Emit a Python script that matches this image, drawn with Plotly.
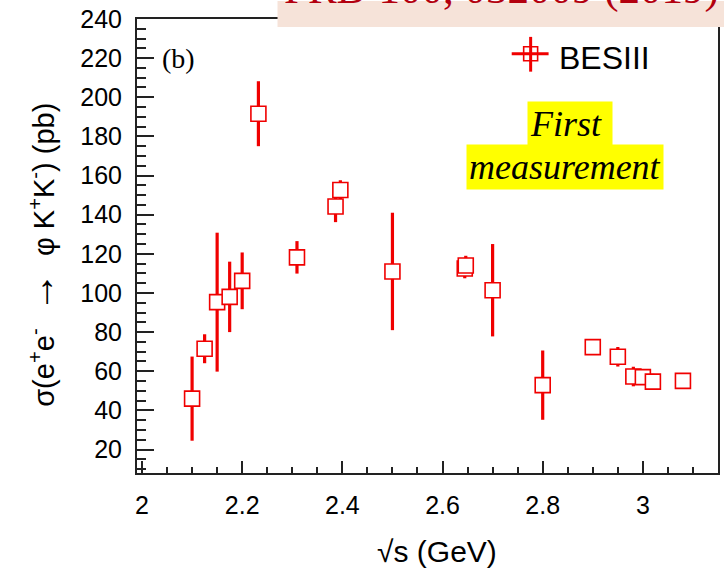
import plotly.graph_objects as go

# e+e- -> phi K+ K- cross section measured by BESIII
sqrt_s = [2.1000, 2.1250, 2.1500, 2.1750, 2.2000, 2.2324, 2.3094, 2.3864, 2.3960,
          2.5000, 2.6444, 2.6464, 2.7000, 2.8000, 2.9000, 2.9500, 2.9810, 3.0000,
          3.0200, 3.0800]
sigma_pb = [46.0, 71.5, 95.3, 98.0, 106.2, 191.6, 118.2, 144.2, 152.6,
            111.0, 112.5, 114.0, 101.4, 52.9, 72.3, 67.4, 57.3, 57.0,
            54.7, 55.1]
sigma_err = [21.5, 7.4, 35.5, 18.0, 14.5, 16.6, 8.3, 8.0, 5.0,
             30.0, 5.0, 5.0, 23.6, 17.7, 4.0, 5.0, 5.0, 4.0,
             4.0, 3.0]

x_ticks = [2.0, 2.2, 2.4, 2.6, 2.8, 3.0]
x_ticklabels = ["2", "2.2", "2.4", "2.6", "2.8", "3"]
y_ticks = [20, 40, 60, 80, 100, 120, 140, 160, 180, 200, 220, 240]

RED = "#f00000"
W, H = 725, 573
L, R, T, B = 137, 5, 16, 100
PW, PH = W - L - R, H - T - B


def px(xp):
    return (xp - L) / PW


def py(yp):
    return (H - B - yp) / PH


fig = go.Figure()
fig.add_trace(go.Scatter(
    x=sqrt_s, y=sigma_pb, mode="markers",
    error_y=dict(type="data", array=sigma_err, visible=True,
                 color=RED, thickness=3.2, width=0),
    marker=dict(symbol="square", size=15, color="white",
                line=dict(color=RED, width=1.6)),
    showlegend=False,
))

sans = "Liberation Sans, Arial, sans-serif"
serif = "Liberation Serif, Times New Roman, serif"

fig.update_layout(
    width=W, height=H,
    margin=dict(l=L, r=R, t=T, b=B),
    paper_bgcolor="white", plot_bgcolor="white",
    font=dict(family=sans, color="black"),
    xaxis=dict(
        range=[1.99, 3.15], showgrid=False, zeroline=False,
        showline=True, linecolor="#222", linewidth=2, mirror=True,
        ticks="inside", ticklen=12, tickwidth=1.5, tickcolor="#222",
        tickvals=x_ticks, ticktext=x_ticklabels,
        tickfont=dict(size=25, family=sans), ticklabelstandoff=9,
        minor=dict(ticks="inside", ticklen=6, dtick=0.05, tick0=2.0,
                   tickcolor="#222", tickwidth=1.5),
    ),
    yaxis=dict(
        range=[8, 240], showgrid=False, zeroline=False,
        showline=True, linecolor="#222", linewidth=2, mirror=True,
        ticks="inside", ticklen=17, tickwidth=1.5, tickcolor="#222",
        tickvals=y_ticks,
        tickfont=dict(size=25, family=sans), ticklabelstandoff=8,
        minor=dict(ticks="inside", ticklen=9, dtick=5, tick0=0,
                   tickcolor="#222", tickwidth=1.5),
    ),
)

shapes = []
# reference banner at the top
shapes.append(dict(type="rect", xref="paper", yref="paper", layer="above",
                   x0=px(278), x1=px(726), y0=py(24), y1=py(-2),
                   fillcolor="#f6e3d9", line=dict(width=0)))
# legend glyph: marker with error bars
shapes.append(dict(type="line", xref="paper", yref="paper", layer="above",
                   x0=px(513), x1=px(550), y0=py(51), y1=py(51),
                   line=dict(color=RED, width=3)))
shapes.append(dict(type="line", xref="paper", yref="paper", layer="above",
                   x0=px(532), x1=px(532), y0=py(34), y1=py(69),
                   line=dict(color=RED, width=3)))
shapes.append(dict(type="rect", xref="paper", yref="paper", layer="above",
                   x0=px(525), x1=px(539), y0=py(58), y1=py(44),
                   fillcolor="rgba(0,0,0,0)", line=dict(color=RED, width=1.6)))
fig.update_layout(shapes=shapes)

NB = "\u00a0"
ytitle = ("σ(e<sup>+</sup>e<sup>-</sup>" + NB + NB
          + "<span style='font-size:40px'>→</span>" + NB + NB
          + "φ" + NB + "K<sup>+</sup>K<sup>-</sup>)" + NB + "(pb)")

annotations = [
    dict(text="PRD 100, 032009 (2019)", x=px(503), y=py(12), xanchor="center",
         yanchor="bottom", font=dict(family=serif, size=43, color="#b3000f")),
    dict(text="(b)", x=px(160), y=py(56), xanchor="left", yanchor="middle",
         font=dict(family=serif, size=28, color="black")),
    dict(text="BESIII", x=px(558), y=py(55), xanchor="left", yanchor="middle",
         font=dict(family=sans, size=32, color="black")),
    dict(text="<i>First </i>", x=px(571), y=py(122), xanchor="center",
         yanchor="middle", bgcolor="yellow", borderpad=2,
         font=dict(family=serif, size=36, color="black")),
    dict(text="<i>measurement</i>", x=px(566), y=py(164.5), xanchor="center",
         yanchor="middle", bgcolor="yellow", borderpad=2,
         font=dict(family=serif, size=36, color="black")),
    dict(text=ytitle, x=px(40), y=py(253), textangle=-90, xanchor="center",
         yanchor="middle", font=dict(family=sans, size=29, color="black")),
    dict(text="√s (GeV)", x=px(438), y=py(552), xanchor="center", yanchor="middle",
         font=dict(family=sans, size=30, color="black")),
]
for a in annotations:
    a.setdefault("xref", "paper")
    a.setdefault("yref", "paper")
    a.setdefault("showarrow", False)
fig.update_layout(annotations=annotations)

fig.write_html("out.html")
